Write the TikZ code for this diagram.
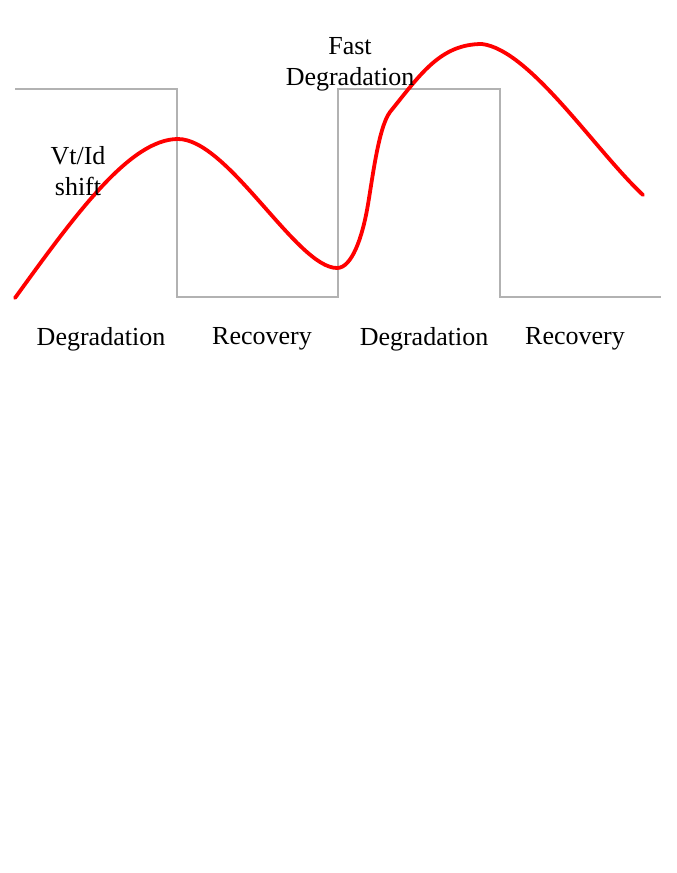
\documentclass[tikz,border=0pt]{standalone}
\usepackage{fontspec}
\setmainfont{Liberation Serif}
\definecolor{wavegray}{RGB}{178,178,178}
\begin{document}
\begin{tikzpicture}[x=1pt,y=-1pt,
  lbl/.style={inner sep=0pt, align=center, font=\fontsize{26}{31}\selectfont},
  wave/.style={draw=wavegray, line width=1.2pt},
  curve/.style={draw=red, line width=3.8pt, line cap=round, line join=round}]
\useasboundingbox (0,0) rectangle (677,873);
% square wave
\coordinate (w0) at (15,89);
\coordinate (w1) at (177,89);
\coordinate (w2) at (177,297);
\coordinate (w3) at (338,297);
\coordinate (w4) at (338,89);
\coordinate (w5) at (500,89);
\coordinate (w6) at (500,297);
\coordinate (w7) at (661,297);
\draw[wave] (w0) -- (w1) -- (w2) -- (w3) -- (w4) -- (w5) -- (w6) -- (w7);
% red curve
\coordinate (c0) at (15,298);
\coordinate (c1) at (178,139);
\coordinate (c2) at (337,268);
\coordinate (c3) at (367,210);
\coordinate (c4) at (390,112);
\coordinate (c5) at (482,44);
\coordinate (c6) at (643,195);
\draw[curve] (c0) .. controls (75,215) and (130,139) .. (c1)
  .. controls (228,139) and (297,268) .. (c2)
  .. controls (352,268) and (362,237) .. (c3)
  .. controls (372,183) and (378,128) .. (c4)
  .. controls (420,75) and (440,44) .. (c5)
  .. controls (530,50) and (595,150) .. (c6);
% labels
\node[lbl] (vt) at (78,171) {Vt/Id\\shift};
\node[lbl] (fd) at (350,64) {Fast\\Degradation};
\node[lbl] (d1) at (101,339) {Degradation};
\node[lbl] (r1) at (262,339) {Recovery};
\node[lbl] (d2) at (424,339) {Degradation};
\node[lbl] (r2) at (575,339) {Recovery};
\end{tikzpicture}
\end{document}
